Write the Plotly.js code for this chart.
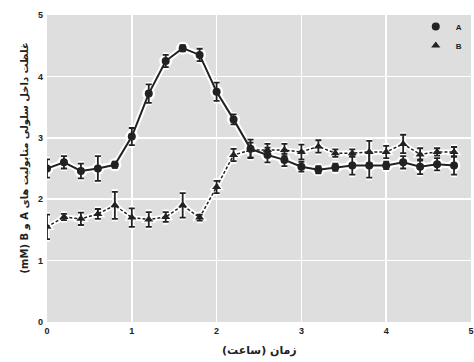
<!DOCTYPE html>
<html>
<head>
<meta charset="utf-8">
<script src="https://cdn.plot.ly/plotly-3.0.1.min.js"></script>
<style>html,body{margin:0;padding:0;background:#fff;}#chart{width:474px;height:362px;}</style>
</head>
<body>
<div id="chart"></div>
<script>
// time (hours)
const timeHours = [0,0.2,0.4,0.6,0.8,1.0,1.2,1.4,1.6,1.8,2.0,2.2,2.4,2.6,2.8,3.0,3.2,3.4,3.6,3.8,4.0,4.2,4.4,4.6,4.8];
// metabolite A (mM)
const valuesA = [2.50,2.60,2.46,2.50,2.56,3.02,3.72,4.25,4.46,4.35,3.75,3.30,2.82,2.72,2.64,2.53,2.48,2.52,2.55,2.55,2.55,2.60,2.53,2.57,2.55];
const errorsA = [0.15,0.10,0.12,0.20,0.05,0.14,0.15,0.10,0.05,0.10,0.15,0.08,0.15,0.12,0.10,0.08,0.06,0.06,0.15,0.20,0.06,0.10,0.12,0.10,0.15];
// metabolite B (mM)
const valuesB = [1.55,1.71,1.68,1.76,1.90,1.70,1.67,1.71,1.90,1.70,2.20,2.72,2.80,2.80,2.80,2.77,2.86,2.75,2.75,2.77,2.77,2.90,2.73,2.77,2.77];
const errorsB = [0.20,0.05,0.10,0.08,0.22,0.15,0.12,0.08,0.20,0.05,0.10,0.10,0.12,0.10,0.10,0.12,0.10,0.06,0.06,0.18,0.10,0.15,0.10,0.06,0.08];
const seriesNames = ['A','B'];
const xTickVals = [0,1,2,3,4,5];
const yTickVals = [0,1,2,3,4,5];
const xTitle = '(ساعت) زمان';
const yTitle = '(mM) B و A غلظت داخل سلولی متابولیت های';

const ink = '#222222';
const halo = '#ffffff';

function lineTrace(y, dash, color, width) {
  return {x: timeHours, y: y, mode: 'lines', showlegend: false, hoverinfo: 'skip',
          line: {color: color, width: width, dash: dash}};
}
function markerTrace(y, err, name, symbol, color, size, ew, show) {
  return {x: timeHours, y: y, mode: 'markers', name: name, showlegend: show,
          marker: {symbol: symbol, size: size, color: color, line: {width: 0}},
          error_y: {type: 'data', array: err, visible: true, color: color, thickness: ew, width: 3}};
}

const data = [
  // white halos
  lineTrace(valuesA, 'solid', halo, 6),
  lineTrace(valuesB, 'solid', halo, 5),
  markerTrace(valuesA, errorsA, 'hA', 'circle', halo, 13, 5, false),
  markerTrace(valuesB, errorsB, 'hB', 'triangle-up', halo, 13, 5, false),
  // series
  lineTrace(valuesA, 'solid', ink, 2),
  lineTrace(valuesB, '3px,2px', ink, 1.5),
  markerTrace(valuesA, errorsA, seriesNames[0], 'circle', ink, 8, 1.8, true),
  markerTrace(valuesB, errorsB, seriesNames[1], 'triangle-up', ink, 8, 1.8, true)
];

const titleFont = {family: 'DejaVu Sans, sans-serif', weight: 'bold', color: '#222'};

const layout = {
  width: 474, height: 362,
  margin: {l: 47, r: 3, t: 15, b: 40},
  paper_bgcolor: '#ffffff',
  plot_bgcolor: '#dedede',
  font: {family: 'DejaVu Sans, Liberation Sans, sans-serif', color: '#222'},
  showlegend: true,
  legend: {x: 0.99, y: 1.01, xanchor: 'right', yanchor: 'top', bgcolor: 'rgba(0,0,0,0)',
           font: {size: 8, family: 'Liberation Sans, Arial, sans-serif', weight: 'bold'},
           tracegroupgap: 0, itemwidth: 30},
  xaxis: {range: [0, 5], tickvals: xTickVals, ticktext: xTickVals.map(String),
          showgrid: true, gridcolor: '#ffffff', gridwidth: 1.5, zeroline: false,
          showline: false, ticks: '', ticklabelstandoff: 2,
          tickfont: {size: 9, family: 'Liberation Sans, Arial, sans-serif', weight: 'bold', color: '#222'}},
  yaxis: {range: [0, 5], tickvals: yTickVals, ticktext: yTickVals.map(String),
          showgrid: true, gridcolor: '#ffffff', gridwidth: 1.5, zeroline: false,
          showline: false, ticks: '', ticklabelstandoff: 3,
          tickfont: {size: 9, family: 'Liberation Sans, Arial, sans-serif', weight: 'bold', color: '#222'}},
  annotations: [
    {text: xTitle, xref: 'paper', yref: 'paper', x: 0.5, y: 0, xanchor: 'center', yanchor: 'middle',
     yshift: -28, showarrow: false, font: Object.assign({size: 11}, titleFont)},
    {text: yTitle, xref: 'paper', yref: 'paper', x: 0, y: 0.5, xanchor: 'center', yanchor: 'middle',
     xshift: -23, yshift: 10, textangle: -90, showarrow: false, font: Object.assign({size: 10}, titleFont)}
  ]
};

Plotly.newPlot('chart', data, layout, {displayModeBar: false, staticPlot: true});
</script>
</body>
</html>
